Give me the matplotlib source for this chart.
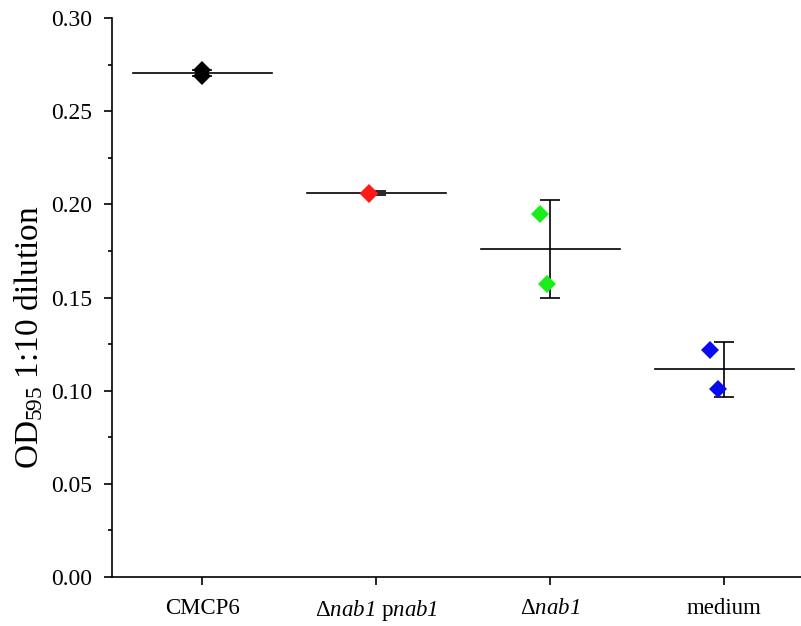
import numpy as np
import matplotlib.pyplot as plt
from matplotlib.ticker import MultipleLocator, FormatStrFormatter

plt.rcParams['font.family'] = ['Liberation Serif', 'DejaVu Serif']
plt.rcParams['mathtext.fontset'] = 'custom'
plt.rcParams['mathtext.rm'] = 'Liberation Serif'
plt.rcParams['mathtext.it'] = 'Liberation Serif:italic'
plt.rcParams['mathtext.cal'] = 'Liberation Serif:italic'  # italic digits too

# groups and replicate values
labels = ['CMCP6', 'Δ$\\mathcal{nab1}$ p$\\mathcal{nab1}$', 'Δ$\\mathcal{nab1}$', 'medium']
colors = ['#000000', '#ff1a1a', '#1aee1a', '#0a0aee']
rep1 = [0.272, 0.2055, 0.195, 0.122]
rep2 = [0.269, 0.2060, 0.157, 0.101]
jit1 = [0.0, -0.04, -0.06, -0.085]
jit2 = [0.0, -0.04, -0.02, -0.035]
means = [0.2705, 0.206, 0.176, 0.1115]
errs = [0.0015, 0.0012, 0.0265, 0.0147]

pos = np.arange(1, len(labels) + 1)

fig = plt.figure(figsize=(8.01, 6.26), dpi=100)
ax = fig.add_axes([0.1398, 0.0783, 0.8602, 0.8929])

for i, p in enumerate(pos):
    ax.plot([p - 0.4, p + 0.4], [means[i], means[i]], color='black', lw=1.2, zorder=2)
    ax.errorbar(p, means[i], yerr=errs[i], color='black', lw=1.2, capsize=7,
                capthick=1.2, fmt='none', zorder=2)
    ax.plot([p + jit1[i], p + jit2[i]], [rep1[i], rep2[i]], 'D', color=colors[i],
            markersize=9, markeredgewidth=0, zorder=3)

ax.set_xlim(0.48, 4.44)
ax.set_ylim(0, 0.30)
ax.set_xticks(pos)
ax.set_xticklabels(labels)
ax.yaxis.set_major_locator(MultipleLocator(0.05))
ax.yaxis.set_minor_locator(MultipleLocator(0.025))
ax.yaxis.set_major_formatter(FormatStrFormatter('%.2f'))
ax.tick_params(axis='y', which='major', direction='out', length=6, width=1.2,
               pad=8, labelsize=17)
ax.tick_params(axis='x', which='major', direction='out', length=6, width=1.2,
               pad=9, labelsize=16.5)
ax.tick_params(axis='y', which='minor', direction='out', length=3, width=1.2)
ax.set_ylabel('OD$_{595}$ 1:10 dilution', fontsize=24)
ax.yaxis.set_label_coords(-0.097, 0.43)

ax.spines['top'].set_visible(False)
ax.spines['right'].set_visible(False)
for s in ['left', 'bottom']:
    ax.spines[s].set_linewidth(1.2)

plt.savefig('out.png', dpi=100)
